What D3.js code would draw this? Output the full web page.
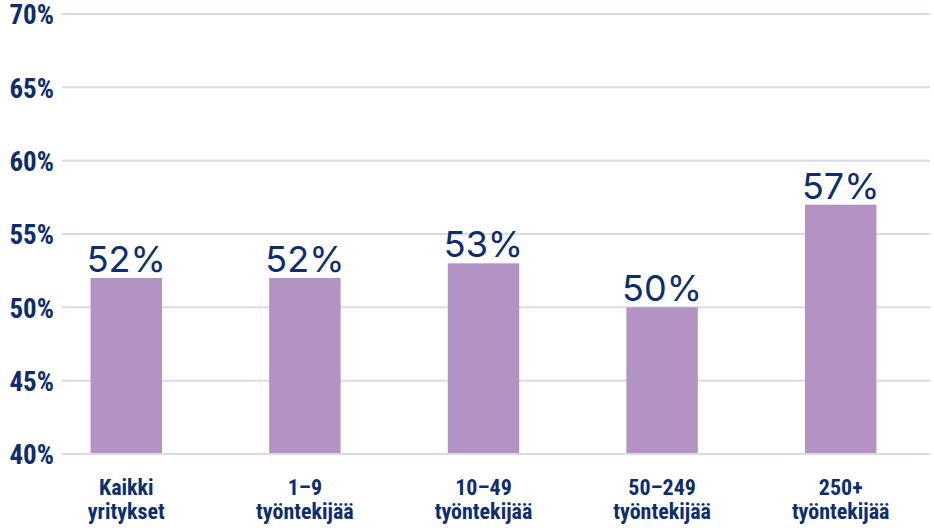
<!DOCTYPE html>
<html><head><meta charset="utf-8">
<script src="https://cdn.jsdelivr.net/npm/d3@7"></script>
<style>body{margin:0;background:#fff}</style>
</head><body>
<svg id="c" width="934" height="528"></svg>
<script>
const categories = [["Kaikki","yritykset"],["1–9","työntekijää"],["10–49","työntekijää"],["50–249","työntekijää"],["250+","työntekijää"]];
const values = [52, 52, 53, 50, 57];
const yTicks = [40, 45, 50, 55, 60, 65, 70];

const navy = "#0e2d6a";
const svg = d3.select("#c");
const x = d3.scaleBand().domain(d3.range(values.length)).range([37, 930]).paddingInner(0.6).paddingOuter(0.3);
const y = d3.scaleLinear().domain([40, 70]).range([454, 14]);
const narrow = "'Liberation Sans Narrow','Roboto Condensed','Liberation Sans',Arial,sans-serif";

const yAxis = d3.axisLeft(y).tickValues(yTicks).tickFormat(d => d + "%").tickSize(0).tickPadding(8);
const gy = svg.append("g").attr("transform", "translate(62,0)").call(yAxis);
gy.select(".domain").remove();
gy.selectAll("text").attr("font-family", narrow).attr("font-weight", 700).attr("font-size", 27).attr("fill", navy).attr("dy", "0.36em");

svg.append("g").selectAll("line").data(yTicks).join("line")
  .attr("x1", 62).attr("x2", 930).attr("y1", d => y(d)).attr("y2", d => y(d))
  .attr("stroke", "#d9dae9").attr("stroke-width", 2);

svg.append("g").selectAll("rect").data(values).join("rect")
  .attr("x", (d, i) => x(i)).attr("width", x.bandwidth())
  .attr("y", d => y(d)).attr("height", d => y(40) - y(d) - 1)
  .attr("fill", "#b293c3");

svg.append("g").selectAll("text").data(values).join("text")
  .attr("x", (d, i) => x(i) + x.bandwidth() / 2).attr("y", d => y(d) - 6)
  .attr("text-anchor", "middle").attr("font-family", "Inter, sans-serif").attr("font-weight", 400)
  .attr("font-size", 36).attr("fill", navy).text(d => d + "%");

const xl = svg.append("g").selectAll("text").data(categories).join("text")
  .attr("text-anchor", "middle").attr("font-family", narrow).attr("font-weight", 700)
  .attr("font-size", 22).attr("fill", navy);
xl.each(function(d, i) {
  const t = d3.select(this);
  d.forEach((line, j) => t.append("tspan").attr("x", x(i) + x.bandwidth() / 2).attr("y", 495 + j * 24).text(line));
});
</script>
</body></html>
